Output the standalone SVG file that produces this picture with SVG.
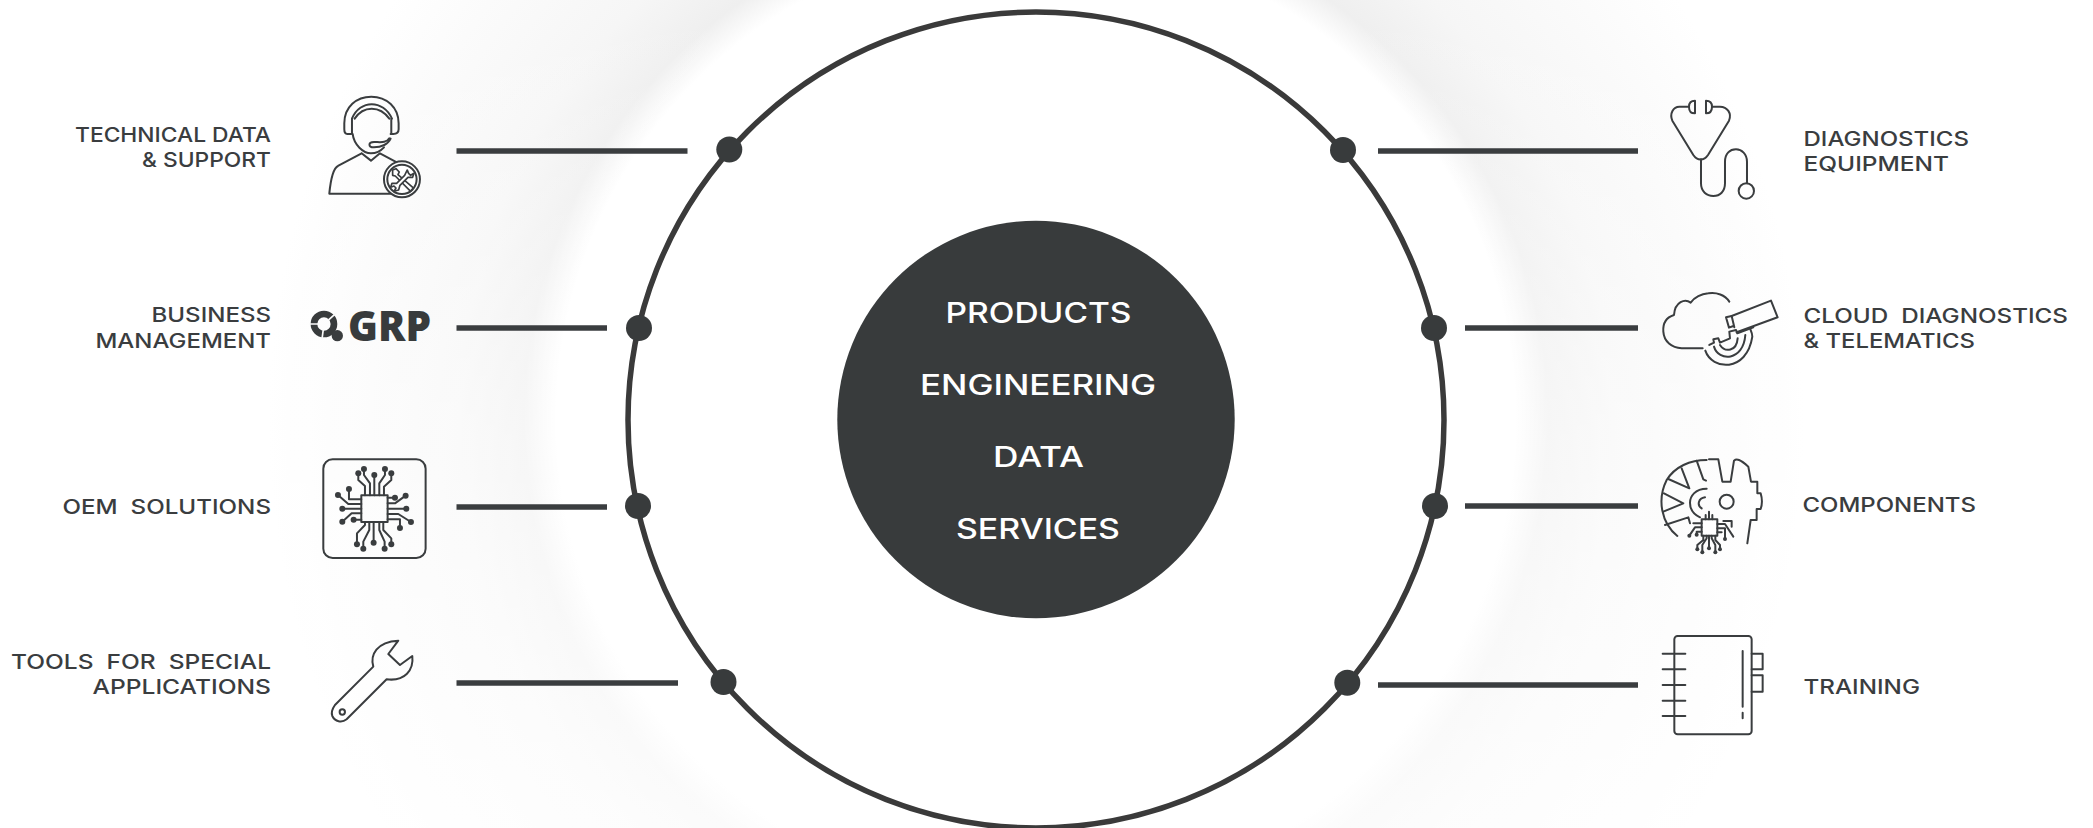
<svg xmlns="http://www.w3.org/2000/svg" width="2093" height="828" viewBox="0 0 2093 828">
<defs>
<radialGradient id="halo" gradientUnits="userSpaceOnUse" cx="1036" cy="420" r="800">
<stop offset="0.6" stop-color="#ffffff"/>
<stop offset="0.64" stop-color="#efefef"/>
<stop offset="0.72" stop-color="#f6f6f6"/>
<stop offset="0.86" stop-color="#fbfbfb"/>
<stop offset="0.96" stop-color="#ffffff"/>
</radialGradient>
<linearGradient id="fade" x1="0" y1="0" x2="0" y2="1">
<stop offset="0" stop-color="#ffffff" stop-opacity="0"/>
<stop offset="0.5" stop-color="#ffffff" stop-opacity="0.45"/>
<stop offset="1" stop-color="#ffffff" stop-opacity="0.75"/>
</linearGradient>
</defs>
<style>
.lb{font-family:"Inter","Liberation Sans",sans-serif;font-weight:500;font-size:20.5px;fill:#3a3d3f}
.ctr{font-family:"Inter","Liberation Sans",sans-serif;font-weight:500;font-size:28px;fill:#ffffff}
.ic{fill:none;stroke:#3a3d3f;stroke-width:6;stroke-linecap:round;stroke-linejoin:round}
.d{fill:#3a3d3f;stroke:none}
.cn{stroke:#3a3d3f;stroke-width:5.500;fill:none}
.dot{fill:#383b3c}
</style>
<rect width="2093" height="828" fill="#ffffff"/>
<rect width="2093" height="828" fill="url(#halo)"/>
<rect width="2093" height="828" fill="url(#fade)"/>
<g id="ring"><circle cx="1036" cy="420" r="408" fill="#ffffff" stroke="#3a3a3a" stroke-width="5.500"/></g>
<g id="connectors">
<line class="cn" x1="456.500" y1="151" x2="687.500" y2="151"/>
<line class="cn" x1="456.500" y1="328" x2="607" y2="328"/>
<line class="cn" x1="456.500" y1="507" x2="607" y2="507"/>
<line class="cn" x1="456.500" y1="683" x2="678" y2="683"/>
<line class="cn" x1="1378" y1="151" x2="1638" y2="151"/>
<line class="cn" x1="1465" y1="328" x2="1638" y2="328"/>
<line class="cn" x1="1465" y1="506" x2="1638" y2="506"/>
<line class="cn" x1="1378" y1="685" x2="1638" y2="685"/>
<circle class="dot" cx="729.300" cy="149.500" r="13"/><circle class="dot" cx="639" cy="328" r="13"/>
<circle class="dot" cx="638" cy="506" r="13"/><circle class="dot" cx="723.500" cy="682" r="13"/>
<circle class="dot" cx="1343" cy="150" r="13"/><circle class="dot" cx="1434" cy="328" r="13"/>
<circle class="dot" cx="1435" cy="506" r="13"/><circle class="dot" cx="1347.300" cy="682.700" r="13"/>
</g>
<g id="center">
<circle cx="1036" cy="419.500" r="198.700" fill="#383b3c"/>
<text class="ctr" x="945.500" y="322.700" textLength="186" lengthAdjust="spacingAndGlyphs">PRODUCTS</text>
<text class="ctr" x="920" y="395" textLength="236" lengthAdjust="spacingAndGlyphs">ENGINEERING</text>
<text class="ctr" x="993" y="466.700" textLength="91" lengthAdjust="spacingAndGlyphs">DATA</text>
<text class="ctr" x="956" y="539" textLength="164" lengthAdjust="spacingAndGlyphs">SERVICES</text>
</g>
<g id="technical-data">
<text class="lb" x="75" y="141.700" textLength="196" lengthAdjust="spacingAndGlyphs">TECHNICAL DATA</text>
<text class="lb" x="142" y="167" textLength="129" lengthAdjust="spacingAndGlyphs">&amp; SUPPORT</text>
<g transform="translate(0 70) scale(.3333)" class="ic">
<path d="M1052 192H1042C1034 192 1033 186 1033 178V160C1033 110 1070 80 1114 80C1160 80 1196 112 1196 160V178C1196 186 1192 192 1180 192H1172"/>
<path d="M1056 192V146M1174 192V146"/>
<path d="M1056 146C1080 88 1150 88 1176 146M1064 146C1090 106 1140 106 1168 146"/>
<path d="M1058 192C1062 225 1090 250 1113 250C1128 250 1142 243 1152 232"/>
<path d="M1168 205C1160 220 1140 216 1122 216C1104 216 1104 232 1122 232C1145 232 1165 222 1172 206"/>
<path d="M1085 250L1113 272L1140 250L1192 278M1085 250L1014 288C998 296 992 330 988 371H1172"/>
<circle cx="1206" cy="328" r="54" fill="#fff"/><circle cx="1206" cy="328" r="44"/>
<path stroke-width="5" d="M1178 300L1188 296L1198 306L1194 314L1240 354L1232 364L1186 318L1178 316Z"/>
<path stroke-width="5" fill="#fff" d="M1222 300L1214 316L1190 340L1176 340L1172 352L1182 348L1188 354L1182 364L1196 360L1200 346L1224 322L1238 322L1242 310L1232 316L1226 310Z"/>
</g>
</g>
<g id="business">
<text class="lb" x="151.500" y="321.700" textLength="119.500" lengthAdjust="spacingAndGlyphs">BUSINESS</text>
<text class="lb" x="95.500" y="347.700" textLength="175.500" lengthAdjust="spacingAndGlyphs">MANAGEMENT</text>
<g transform="translate(0 70) scale(.3333)">
<circle cx="972" cy="762" r="30" fill="none" stroke="#383b3c" stroke-width="20"/>
<path d="M928 762H956M1010 728L986 750M966 808L970 778" stroke="#fafafa" stroke-width="5" fill="none"/>
<circle class="d" cx="1012" cy="797" r="17"/>
</g>
<text x="348" y="340.700" font-family="'Open Sans',sans-serif" font-weight="800" font-size="42" fill="#383b3c" textLength="83" lengthAdjust="spacingAndGlyphs">GRP</text>
</g>
<g id="oem">
<text class="lb" x="62.500" y="514" textLength="208.500" lengthAdjust="spacingAndGlyphs" xml:space="preserve">OEM  SOLUTIONS</text>
<g transform="translate(0 430) scale(.3333)" class="ic">
<rect x="970" y="88" width="307" height="296" rx="28"/>
<rect x="1084" y="196" width="79" height="80"/>
<path d="M1075 130V150L1095 168V196M1092 117V135L1110 160V196M1123 135V196M1155 117V135L1138 160V196M1174 130V150L1152 170V196M1014 195L1045 222H1084M1047 177V208H1084M1027 236H1084M1027 275L1055 250H1084M1061 269H1084M1185 203H1163M1217 197L1185 220H1163M1219 236H1163M1233 276L1195 252H1163M1200 294V268H1163M1071 343V310L1095 285V276M1090 356V335L1108 300V276M1121 338V276M1154 356V335L1138 300V276M1174 343V325L1150 300V276"/>
<g class="d"><circle cx="1075" cy="130" r="9"/><circle cx="1092" cy="117" r="9"/><circle cx="1123" cy="135" r="9"/><circle cx="1155" cy="117" r="9"/><circle cx="1174" cy="130" r="9"/><circle cx="1014" cy="195" r="9"/><circle cx="1047" cy="177" r="9"/><circle cx="1027" cy="236" r="9"/><circle cx="1027" cy="275" r="9"/><circle cx="1061" cy="269" r="9"/><circle cx="1185" cy="203" r="9"/><circle cx="1217" cy="197" r="9"/><circle cx="1219" cy="236" r="9"/><circle cx="1233" cy="276" r="9"/><circle cx="1200" cy="294" r="9"/><circle cx="1071" cy="343" r="9"/><circle cx="1090" cy="356" r="9"/><circle cx="1121" cy="338" r="9"/><circle cx="1154" cy="356" r="9"/><circle cx="1174" cy="343" r="9"/></g>
</g>
</g>
<g id="tools">
<text class="lb" x="11" y="668.700" textLength="260" lengthAdjust="spacingAndGlyphs" xml:space="preserve">TOOLS  FOR  SPECIAL</text>
<text class="lb" x="92.500" y="693.700" textLength="178.500" lengthAdjust="spacingAndGlyphs">APPLICATIONS</text>
<g transform="translate(0 430) scale(.3333)" class="ic">
<path d="M1120 710C1110 675 1130 635 1195 632L1165 672L1200 705L1237 678C1242 720 1215 755 1160 748L1040 868C1025 880 1005 875 997 858C992 845 998 835 1005 825Z"/>
<circle cx="1027" cy="846" r="8"/>
</g>
</g>
<g id="diagnostics">
<text class="lb" x="1803.500" y="145.700" textLength="165.500" lengthAdjust="spacingAndGlyphs">DIAGNOSTICS</text>
<text class="lb" x="1803.500" y="171" textLength="145.500" lengthAdjust="spacingAndGlyphs">EQUIPMENT</text>
<g transform="translate(1640 80) scale(.3333)" class="ic">
<path d="M147 80H118C100 80 88 100 97 122L160 225C172 243 192 243 204 225L267 122C276 100 262 80 240 80H216"/>
<path d="M165 62V100C150 100 147 92 147 80C147 70 152 62 165 62ZM198 62V100C210 100 216 92 216 80C216 70 210 62 198 62Z"/>
<path d="M183 238V310C183 335 200 348 220 348C240 348 255 335 255 310V245C255 220 270 208 288 208C305 208 321 222 321 245V310"/>
<circle cx="319" cy="333" r="23"/>
</g>
</g>
<g id="cloud">
<text class="lb" x="1803.500" y="323" textLength="264.500" lengthAdjust="spacingAndGlyphs" xml:space="preserve">CLOUD  DIAGNOSTICS</text>
<text class="lb" x="1803.500" y="347.700" textLength="171.500" lengthAdjust="spacingAndGlyphs">&amp; TELEMATICS</text>
<g transform="translate(1640 80) scale(.3333)" class="ic">
<path d="M268 665C255 645 230 636 205 640C180 642 162 655 152 668C135 655 105 665 102 705C80 712 68 730 70 755C72 785 95 803 125 805H188"/>
<path d="M275 708L393 662L413 712L290 757"/>
<path d="M275 708L258 712L267 743L280 738M275 708L283 742"/>
<path d="M208 795L222 788L220 778L235 775L240 788L270 775L268 755L288 750L292 760L340 742"/>
<path d="M196 812C215 870 320 880 337 770C337 760 333 752 330 745M222 800C235 845 310 845 316 765M240 795C255 818 290 815 293 775"/>
</g>
</g>
<g id="components">
<text class="lb" x="1802.500" y="511.700" textLength="173.500" lengthAdjust="spacingAndGlyphs">COMPONENTS</text>
<g transform="translate(1640 440) scale(.3333)" class="ic">
<path d="M112 288C65 250 50 180 80 120C105 80 150 60 200 60"/>
<path d="M207 58H235L247 125H272L282 62C290 55 300 58 325 80L333 125H352V160H362C368 180 368 190 362 207H350V240H332L322 310"/>
<path d="M170 62L190 118L198 122M125 85L148 145L85 117M72 160L130 190L70 215M75 255L145 232L150 250"/>
<path d="M200 146C165 146 150 170 150 188C150 210 165 225 180 232M195 172C175 175 170 195 185 205"/>
<circle cx="260" cy="185" r="21"/>
<path d="M250 243H275V260"/>
<rect x="185" y="238" width="47" height="49" fill="#fff"/>
<path d="M207 238V215M197 238V225M217 238V225M185 250H160M185 262H165L148 287M185 275H170V284M232 252H255L280 290M232 265H255V297M232 277H245M172 328V315L190 300V287M187 337V315L200 295V287M207 325V287M226 337V315L215 295V287M240 328V315L226 300V287"/>
<g class="d"><circle cx="148" cy="287" r="6"/><circle cx="170" cy="284" r="6"/><circle cx="255" cy="297" r="6"/><circle cx="172" cy="328" r="6"/><circle cx="187" cy="337" r="6"/><circle cx="207" cy="325" r="6"/><circle cx="226" cy="337" r="6"/><circle cx="240" cy="328" r="6"/></g>
</g>
</g>
<g id="training">
<text class="lb" x="1803.500" y="694" textLength="116.500" lengthAdjust="spacingAndGlyphs">TRAINING</text>
<g transform="translate(1640 440) scale(.3333)" class="ic">
<rect x="103" y="588" width="232" height="295" rx="10"/>
<path d="M68 641H136M68 688H136M68 735H136M68 782H136M68 828H136M308 633V800M308 818V835"/>
<path d="M335 641H368V688H335M335 706H368V755H335"/>
</g>
</g>
</svg>
